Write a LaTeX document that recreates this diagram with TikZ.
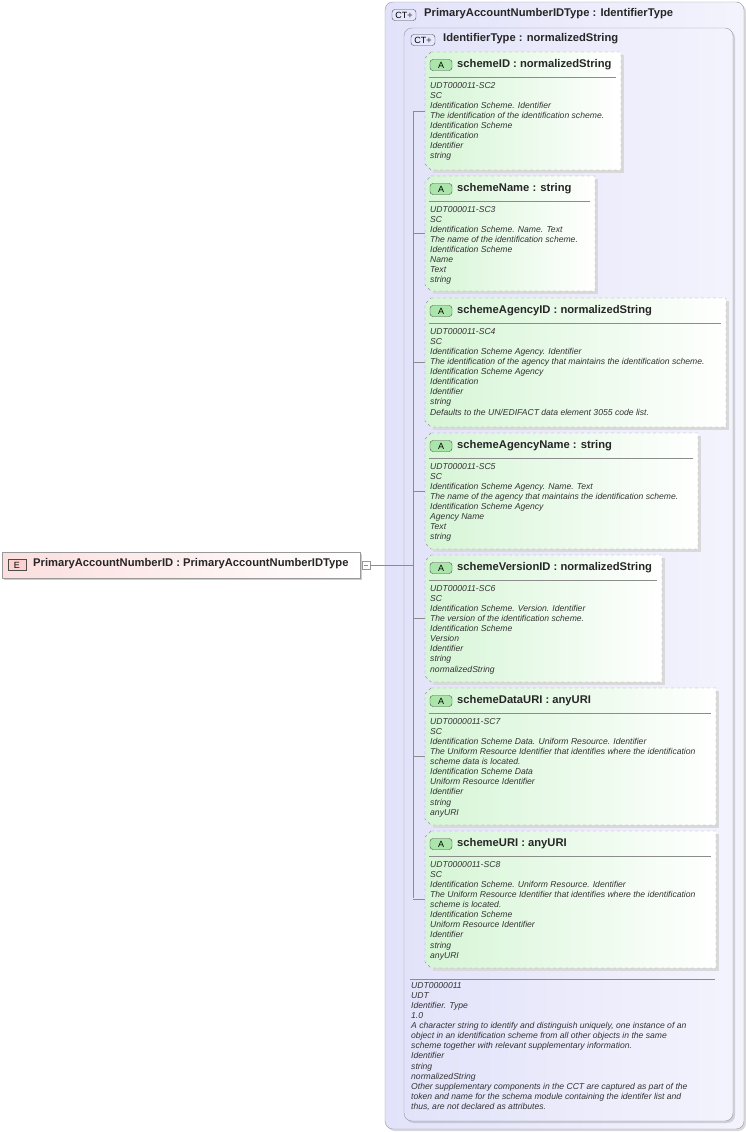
\documentclass[tikz,border=0pt]{standalone}
\usepackage{fontspec}
\setmainfont{Liberation Sans}
\usetikzlibrary{shadows}
\definecolor{ctfill}{RGB}{226,226,250}
\definecolor{ctline}{RGB}{150,150,170}
\definecolor{agreen}{RGB}{214,245,214}
\definecolor{abadge}{RGB}{170,230,170}
\definecolor{efill}{RGB}{252,222,222}
\tikzset{
  ctbox/.style={draw=ctline,rounded corners=8pt,left color=ctfill,right color=ctfill!40,drop shadow={opacity=0.3,shadow xshift=2pt,shadow yshift=-2pt}},
  badge/.style={draw=black!70,rounded corners=3pt,font=\fontsize{9}{10}\selectfont,inner sep=1pt,minimum height=11pt},
  ttl/.style={font=\fontsize{11.2}{12}\selectfont\bfseries,anchor=west,inner sep=0pt,text=black!85},
  body/.style={font=\fontsize{8.6}{10.1}\selectfont\itshape,anchor=north west,align=left,inner sep=0pt,text=black!80},
  conn/.style={draw=black!45,line width=0.6pt}
}
\newcommand{\attrbox}[6]{%
  \fill[black!15] (433,#2+3)--(#3+3,#2+3)--(#3+3,#4+3)--(433,#4+3)--cycle;
  \path[draw=black!40,dashed,left color=agreen,right color=white]
    (431,#2)--(#3,#2)--(#3,#4)--(431,#4)--(425,#4-6)--(425,#2+6)--cycle;
  \node[badge,fill=abadge,minimum width=22pt] (#1b) at (441,#2+13) {A};
  \node[ttl] (#1t) at (457,#2+13) {#5};
  \draw[black!45] (429,#2+25)--(#3-5,#2+25);
  \node[body] (#1) at (430,#2+30) {#6};
  \coordinate (#1c) at (425,{(#2+#4)/2});
}
\begin{document}
\begin{tikzpicture}[x=1pt,y=-1pt]
\useasboundingbox (0,0) rectangle (746,1132);
\path[ctbox] (385,2) rectangle (744,1129);
\node[badge,fill=ctfill!70!blue!25,minimum width=24pt] (ct1) at (404,15) {CT\textcolor{black!60}{\textbf{+}}};
\node[ttl] (t1) at (424,14) {PrimaryAccountNumberIDType : IdentifierType};
\path[ctbox] (404,28) rectangle (733,1121);
\node[badge,fill=ctfill!70!blue!25,minimum width=24pt] (ct2) at (423,40) {CT\textcolor{black!60}{\textbf{+}}};
\node[ttl] (t2) at (443,39) {IdentifierType : normalizedString};

\attrbox{a1}{52}{621}{170}{schemeID : normalizedString}{UDT000011-SC2\\SC\\Identification Scheme. Identifier\\The identification of the identification scheme.\\Identification Scheme\\Identification\\Identifier\\string}
\attrbox{a2}{176}{595}{291}{schemeName : string}{UDT000011-SC3\\SC\\Identification Scheme. Name. Text\\The name of the identification scheme.\\Identification Scheme\\Name\\Text\\string}
\attrbox{a3}{298}{726}{427}{schemeAgencyID : normalizedString}{UDT000011-SC4\\SC\\Identification Scheme Agency. Identifier\\The identification of the agency that maintains the identification scheme.\\Identification Scheme Agency\\Identification\\Identifier\\string\\Defaults to the UN/EDIFACT data element 3055 code list.}
\attrbox{a4}{433}{698}{549}{schemeAgencyName : string}{UDT000011-SC5\\SC\\Identification Scheme Agency. Name. Text\\The name of the agency that maintains the identification scheme.\\Identification Scheme Agency\\Agency Name\\Text\\string}
\attrbox{a5}{555}{662}{682}{schemeVersionID : normalizedString}{UDT000011-SC6\\SC\\Identification Scheme. Version. Identifier\\The version of the identification scheme.\\Identification Scheme\\Version\\Identifier\\string\\normalizedString}
\attrbox{a6}{688}{716}{825}{schemeDataURI : anyURI}{UDT0000011-SC7\\SC\\Identification Scheme Data. Uniform Resource. Identifier\\The Uniform Resource Identifier that identifies where the identification\\scheme data is located.\\Identification Scheme Data\\Uniform Resource Identifier\\Identifier\\string\\anyURI}
\attrbox{a7}{831}{716}{968}{schemeURI : anyURI}{UDT0000011-SC8\\SC\\Identification Scheme. Uniform Resource. Identifier\\The Uniform Resource Identifier that identifies where the identification\\scheme is located.\\Identification Scheme\\Uniform Resource Identifier\\Identifier\\string\\anyURI}

\draw[black!45] (410,979)--(715,979);
\node[body] (doc) at (411,982) {UDT0000011\\UDT\\Identifier. Type\\1.0\\A character string to identify and distinguish uniquely, one instance of an\\object in an identification scheme from all other objects in the same\\scheme together with relevant supplementary information.\\Identifier\\string\\normalizedString\\Other supplementary components in the CCT are captured as part of the\\token and name for the schema module containing the identifer list and\\thus, are not declared as attributes.};

% element
\fill[black!20] (4,554) rectangle (362,580);
\path[draw=black!40,left color=efill,right color=white] (2,552) rectangle (360,578);
\node[badge,fill=efill!80!red!60,minimum width=18pt,rounded corners=0pt] (eb) at (17,565) {E};
\node[ttl] (el) at (33,564) {PrimaryAccountNumberID : PrimaryAccountNumberIDType};
\node[draw=black!40,fill=white,minimum size=8pt,inner sep=0pt] (ex) at (366,565) {};
\draw[black!45] ([xshift=2pt]ex.west)--([xshift=-2pt]ex.east);
\coordinate (j) at (413,565);
\draw[conn] (ex.east)--(j);
\draw[conn] (413,112)--(413,898);
\foreach \a in {a1,a2,a3,a4,a5,a6,a7}{
  \draw[conn] (\a c)--++(-12,0);
}
\end{tikzpicture}
\end{document}
